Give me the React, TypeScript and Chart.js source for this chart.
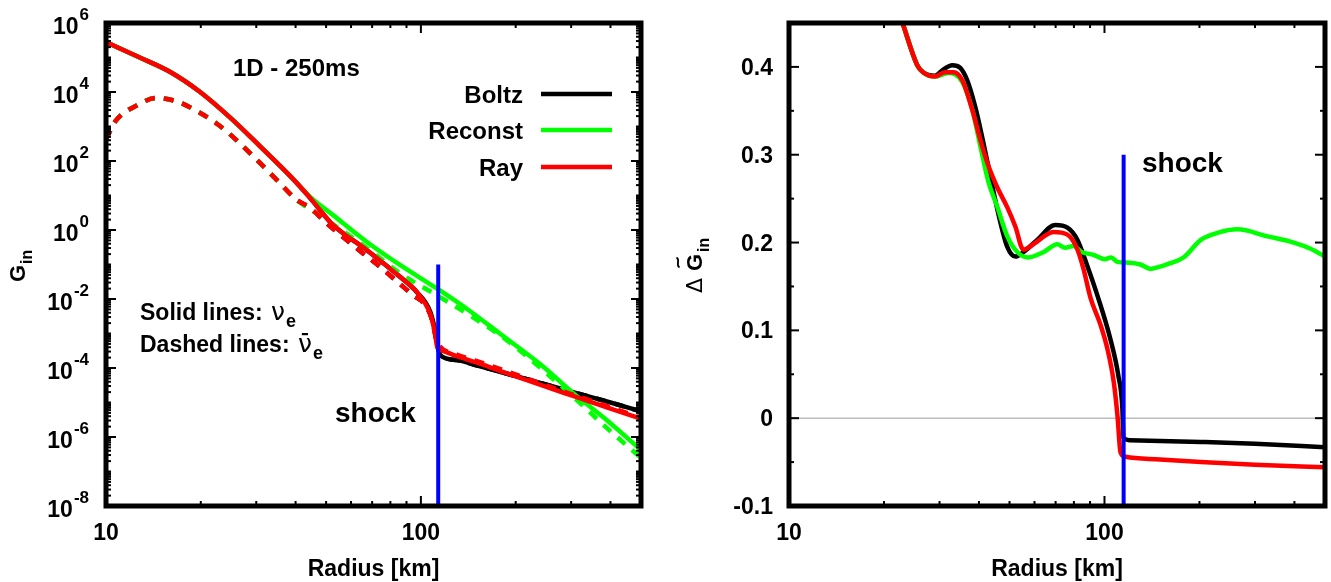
import React, { useEffect, useRef } from 'react';
import { Chart, registerables } from 'chart.js';

Chart.register(...registerables);

const FONT = '"Liberation Sans", Arial, Helvetica, sans-serif';
const SYM = '"DejaVu Sans", sans-serif';
const H = 582;
const LEFT_W = 665;
const RIGHT_W = 666;

const BLACK = '#000000';
const GREEN = '#00ff00';
const RED = '#ff0000';
const BLUE = '#0000ff';

// ===== Left panel: G_in vs radius (solid = nu_e, dashed = anti-nu_e) =====
const boltzNueR = [10, 12.8, 16.0, 19.9, 24.8, 30.8, 38.4, 44.5, 52.6, 67.4, 85.8, 97.0, 107, 111, 113.5, 115.5, 130, 150, 178, 230, 304, 400, 500];
const boltzNueG = [2.8e5, 1.0e5, 3.8e4, 1.0e4, 1.8e3, 270, 37, 8.5, 1.4, 0.26, 0.044, 0.016, 4.3e-3, 1.2e-3, 3.8e-4, 2.3e-4, 1.7e-4, 1.2e-4, 7.8e-5, 4.1e-5, 2.0e-5, 1.0e-5, 5.5e-6];

const rayNueR = [10, 12.8, 16.0, 19.9, 24.8, 30.8, 38.4, 44.5, 52.6, 67.4, 85.8, 97.0, 107, 110.7, 112.9, 115.5, 130, 150, 178, 230, 304, 400, 500];
const rayNueG = [2.8e5, 1.0e5, 3.8e4, 1.0e4, 1.8e3, 270, 37, 8.5, 1.4, 0.26, 0.044, 0.016, 3.7e-3, 1.1e-3, 3.8e-4, 3.3e-4, 2.2e-4, 1.45e-4, 8.3e-5, 3.7e-5, 1.55e-5, 6.6e-6, 3.4e-6];

const reconstNueR = [10, 12.8, 16.0, 19.9, 24.8, 30.8, 38.4, 44.5, 52.6, 67.4, 85.8, 113, 143, 178, 239, 304, 398, 500];
const reconstNueG = [2.8e5, 1.0e5, 3.8e4, 1.0e4, 1.8e3, 270, 37, 9.1, 2.7, 0.45, 0.097, 0.0195, 4.5e-3, 1.0e-3, 1.3e-4, 1.9e-5, 2.6e-6, 4.2e-7];

const rayAnueR = [10, 10.7, 12.6, 14.5, 16.9, 19.7, 22.5, 25.3, 29.7, 34.9, 40.4, 44.4, 51.4, 58.1, 65.5, 74.2, 83.7, 94.3, 103, 108.5, 112, 114.5, 130, 150, 178, 230, 304, 400, 500];
const rayAnueG = [420, 1.4e3, 4.2e3, 6.7e3, 5.2e3, 2.6e3, 1.2e3, 500, 123, 28, 7.4, 4.4, 1.3, 0.51, 0.21, 0.085, 0.033, 0.013, 6.8e-3, 2.5e-3, 6.5e-4, 4.4e-4, 2.45e-4, 1.6e-4, 9.5e-5, 4.1e-5, 1.7e-5, 7.3e-6, 3.6e-6];

const boltzAnueR = [10, 10.7, 12.6, 14.5, 16.9, 19.7, 22.5, 25.3, 29.7, 34.9, 40.4, 44.4, 51.4, 58.1, 65.5, 74.2, 83.7, 94.3, 103, 108.5, 112, 115.5, 130, 150, 178, 230, 304, 400, 500];
const boltzAnueG = [420, 1.4e3, 4.2e3, 6.7e3, 5.2e3, 2.6e3, 1.2e3, 500, 123, 28, 7.4, 4.4, 1.3, 0.51, 0.21, 0.085, 0.033, 0.013, 6.8e-3, 2.5e-3, 6.5e-4, 2.3e-4, 1.7e-4, 1.2e-4, 7.8e-5, 4.1e-5, 2.0e-5, 1.0e-5, 5.5e-6];

const reconstAnueR = [10, 10.7, 12.6, 14.5, 16.9, 19.7, 22.5, 25.3, 29.7, 34.9, 40.4, 51.4, 67.4, 85.8, 112, 146, 191, 244, 312, 390, 500];
const reconstAnueG = [420, 1.4e3, 4.2e3, 6.7e3, 5.2e3, 2.6e3, 1.2e3, 500, 123, 28, 7.4, 1.7, 0.30, 0.056, 0.013, 3.0e-3, 5.6e-4, 8.7e-5, 1.2e-5, 1.8e-6, 2.5e-7];

const shockLeftR = [113.5, 113.5];
const shockLeftG = [1e-8, 0.1];

// ===== Right panel: Delta G~_in vs radius =====
const boltzDeltaR = [21, 23.0, 25.5, 26.6, 29.0, 30.8, 32.9, 34.9, 36.7, 38.9, 41.3, 43.5, 46.0, 49.2, 52.2, 55.3, 61.2, 69.8, 76.3, 82.1, 88.3, 95.1, 104.4, 110.7, 114.0, 114.8, 120, 202, 300, 500];
const boltzDeltaV = [0.49, 0.448, 0.402, 0.394, 0.390, 0.397, 0.402, 0.399, 0.385, 0.355, 0.314, 0.275, 0.234, 0.195, 0.184, 0.189, 0.203, 0.220, 0.217, 0.203, 0.173, 0.139, 0.090, 0.048, 0.010, -0.022, -0.025, -0.027, -0.029, -0.033];

const reconstDeltaR = [21, 23.0, 25.5, 26.6, 29.0, 32.0, 35.4, 38.1, 40.4, 42.8, 45.7, 49.2, 53.0, 57.4, 64.0, 70.9, 75, 79.7, 85, 92.3, 100, 105, 109.9, 120, 130, 140, 148, 160, 178, 202, 228, 264, 329, 398, 450, 500];
const reconstDeltaV = [0.49, 0.448, 0.402, 0.394, 0.389, 0.393, 0.383, 0.351, 0.310, 0.270, 0.241, 0.207, 0.189, 0.183, 0.189, 0.198, 0.194, 0.196, 0.189, 0.186, 0.181, 0.183, 0.178, 0.177, 0.175, 0.170, 0.172, 0.176, 0.183, 0.203, 0.211, 0.215, 0.207, 0.200, 0.193, 0.184];

const rayDeltaR = [21, 23.0, 25.5, 26.6, 29.0, 31.2, 33.2, 35.4, 38.1, 40.4, 42.8, 45.7, 49.2, 52.2, 55.3, 59.5, 68.9, 76.3, 82.1, 85.8, 90.3, 97.0, 102.3, 107, 110, 112.4, 116.6, 150, 202, 300, 500];
const rayDeltaV = [0.49, 0.448, 0.402, 0.394, 0.389, 0.394, 0.394, 0.385, 0.351, 0.317, 0.288, 0.263, 0.240, 0.218, 0.192, 0.198, 0.212, 0.209, 0.192, 0.170, 0.137, 0.107, 0.078, 0.041, 0.002, -0.039, -0.044, -0.047, -0.050, -0.053, -0.056];

const shockRightR = [115, 115];
const shockRightV = [-0.1, 0.3];
const zeroLineR = [10, 500];
const zeroLineV = [0, 0];

// ===== Axis ticks / labels =====
const xMajorTicks = [10, 100];
const xMinorTicks = [20, 30, 40, 50, 60, 70, 80, 90, 200, 300, 400];
const leftYLabelExponents = [6, 4, 2, 0, -2, -4, -6, -8];
const rightYLabelTicks = [-0.1, 0, 0.1, 0.2, 0.3, 0.4];
const rightYMinorTicks = [-0.05, 0.05, 0.15, 0.25, 0.35];
const legendNames = ['Boltz', 'Reconst', 'Ray'];
const legendColors = [BLACK, GREEN, RED];

const leftYMajor = leftYLabelExponents.map((e) => Math.pow(10, e));
const leftYMinor: number[] = [];
for (let e = -8; e <= 5; e++) {
  for (let m = 1; m <= 9; m++) {
    if (m === 1 && e % 2 === 0) continue;
    leftYMinor.push(m * Math.pow(10, e));
  }
}

const toPts = (r: number[], v: number[]) => r.map((x, i) => ({ x, y: v[i] }));

function curve(label: string, r: number[], v: number[], color: string, dashed = false) {
  return {
    label,
    data: toPts(r, v),
    borderColor: color,
    backgroundColor: color,
    borderWidth: 4.5,
    borderDash: dashed ? [10, 9] : [],
    pointRadius: 0,
    fill: false,
    cubicInterpolationMode: 'monotone' as const,
    borderCapStyle: 'butt' as const,
  };
}

function straight(label: string, r: number[], v: number[], color: string, width: number) {
  return {
    label,
    data: toPts(r, v),
    borderColor: color,
    backgroundColor: color,
    borderWidth: width,
    pointRadius: 0,
    fill: false,
    tension: 0,
    borderCapStyle: 'butt' as const,
  };
}

function font(size: number, bold = true, fam = FONT) {
  return `${bold ? 'bold ' : ''}${size}px ${fam}`;
}

type FrameSpec = {
  xMajor: number[];
  xMinor: number[];
  yMajor: number[];
  yMinor: number[];
  yLabel: (ctx: CanvasRenderingContext2D, v: number, p: number, a: any) => void;
  extra: (ctx: CanvasRenderingContext2D, a: any) => void;
};

function framePlugin(spec: FrameSpec) {
  return {
    id: 'frame',
    afterDraw(chart: any) {
      const { ctx, chartArea: a, scales } = chart;
      const sx = scales.x;
      const sy = scales.y;
      ctx.save();
      ctx.setLineDash([]);
      ctx.strokeStyle = '#000';
      ctx.lineWidth = 2;
      const seg = (x1: number, y1: number, x2: number, y2: number) => {
        ctx.beginPath();
        ctx.moveTo(x1, y1);
        ctx.lineTo(x2, y2);
        ctx.stroke();
      };
      const xt = (v: number, len: number) => {
        const p = sx.getPixelForValue(v);
        seg(p, a.bottom, p, a.bottom - len);
        seg(p, a.top, p, a.top + len);
      };
      const yt = (v: number, len: number) => {
        const p = sy.getPixelForValue(v);
        seg(a.left, p, a.left + len, p);
        seg(a.right, p, a.right - len, p);
      };
      spec.xMajor.forEach((v) => xt(v, 10));
      spec.xMinor.forEach((v) => xt(v, 5));
      spec.yMajor.forEach((v) => yt(v, 10));
      spec.yMinor.forEach((v) => yt(v, 5));
      ctx.lineWidth = 5;
      ctx.lineJoin = 'miter';
      ctx.strokeRect(a.left, a.top, a.right - a.left, a.bottom - a.top);

      ctx.fillStyle = '#000';
      ctx.textBaseline = 'alphabetic';
      ctx.textAlign = 'center';
      ctx.font = font(23);
      spec.xMajor.forEach((v) => ctx.fillText(String(v), sx.getPixelForValue(v), a.bottom + 34));
      ctx.fillText('Radius [km]', (a.left + a.right) / 2, a.bottom + 70);
      spec.yMajor.forEach((v) => spec.yLabel(ctx, v, sy.getPixelForValue(v), a));
      spec.extra(ctx, a);
      ctx.restore();
    },
  };
}

function drawTilde(ctx: CanvasRenderingContext2D, cx: number, cy: number) {
  ctx.beginPath();
  ctx.moveTo(cx - 5, cy + 1.5);
  ctx.bezierCurveTo(cx - 2.5, cy - 3, cx + 2.5, cy + 3, cx + 5, cy - 1.5);
  ctx.lineWidth = 1.8;
  ctx.strokeStyle = '#000';
  ctx.stroke();
}

function drawNuLine(ctx: CanvasRenderingContext2D, x: number, y: number, label: string, bar: boolean) {
  ctx.textAlign = 'left';
  ctx.font = font(23);
  ctx.fillText(label, x, y);
  const cx = x + ctx.measureText(label).width + 2;
  ctx.font = font(25, false, SYM);
  ctx.fillText('\u03BD', cx, y);
  const nw = ctx.measureText('\u03BD').width;
  if (bar) ctx.fillRect(cx + nw * 0.28, y - 19, nw * 0.44, 2.2);
  ctx.font = font(18);
  ctx.fillText('e', cx + nw + 1, y + 7);
}

function leftConfig(): any {
  const extra = (ctx: CanvasRenderingContext2D, a: any) => {
    ctx.fillStyle = '#000';
    ctx.textAlign = 'left';
    ctx.font = font(24);
    ctx.fillText('1D - 250ms', 233, 76);
    const ys = [94, 130, 167];
    legendNames.forEach((n, i) => {
      ctx.textAlign = 'right';
      ctx.font = font(24);
      ctx.fillStyle = '#000';
      ctx.fillText(n, 523, ys[i] + 8.5);
      ctx.strokeStyle = legendColors[i];
      ctx.lineWidth = 4.5;
      ctx.beginPath();
      ctx.moveTo(541, ys[i]);
      ctx.lineTo(612, ys[i]);
      ctx.stroke();
    });
    ctx.fillStyle = '#000';
    ctx.textAlign = 'left';
    ctx.font = font(28);
    ctx.fillText('shock', 335, 422);
    drawNuLine(ctx, 140, 320, 'Solid lines: ', false);
    drawNuLine(ctx, 140, 352, 'Dashed lines: ', true);
    // y title
    ctx.save();
    ctx.translate(25, 282);
    ctx.rotate(-Math.PI / 2);
    ctx.textAlign = 'left';
    ctx.font = font(22);
    ctx.fillText('G', 0, 0);
    const gw = ctx.measureText('G').width;
    ctx.font = font(16);
    ctx.fillText('in', gw + 1, 7);
    ctx.restore();
  };
  const yLabel = (ctx: CanvasRenderingContext2D, v: number, p: number, a: any) => {
    const exp = String(Math.round(Math.log10(v)));
    ctx.textAlign = 'left';
    ctx.font = font(23);
    const wb = ctx.measureText('10').width;
    ctx.font = font(17);
    const we = ctx.measureText(exp).width;
    const x0 = a.left - 17 - wb - we - 1;
    ctx.font = font(23);
    ctx.fillText('10', x0, p + 11);
    ctx.font = font(17);
    ctx.fillText(exp, x0 + wb + 1, p - 3);
  };
  return {
    type: 'line',
    data: {
      datasets: [
        straight('shock', shockLeftR, shockLeftG, BLUE, 4),
        curve('Ray nue', rayNueR, rayNueG, RED),
        curve('Ray anue', rayAnueR, rayAnueG, RED, true),
        curve('Reconst nue', reconstNueR, reconstNueG, GREEN),
        curve('Reconst anue', reconstAnueR, reconstAnueG, GREEN, true),
        curve('Boltz nue', boltzNueR, boltzNueG, BLACK),
        curve('Boltz anue', boltzAnueR, boltzAnueG, BLACK, true),
      ],
    },
    options: {
      responsive: false,
      animation: false,
      devicePixelRatio: 1,
      events: [],
      layout: { padding: { left: 106, top: 23, right: LEFT_W - 641, bottom: H - 506 } },
      plugins: { legend: { display: false }, tooltip: { enabled: false } },
      scales: {
        x: { type: 'logarithmic', min: 10, max: 500, display: false },
        y: { type: 'logarithmic', min: 1e-8, max: 1e6, display: false },
      },
    },
    plugins: [
      framePlugin({ xMajor: xMajorTicks, xMinor: xMinorTicks, yMajor: leftYMajor, yMinor: leftYMinor, yLabel, extra }),
    ],
  };
}

function rightConfig(): any {
  const extra = (ctx: CanvasRenderingContext2D, a: any) => {
    ctx.fillStyle = '#000';
    ctx.textAlign = 'left';
    ctx.font = font(28);
    ctx.fillText('shock', 477, 172);
    ctx.save();
    ctx.translate(37, 293);
    ctx.rotate(-Math.PI / 2);
    ctx.textAlign = 'left';
    ctx.font = font(22, false, SYM);
    ctx.fillText('\u0394', 0, 0);
    ctx.font = font(22);
    const gx = 22;
    ctx.fillText('G', gx, 0);
    const gw = ctx.measureText('G').width;
    drawTilde(ctx, gx + gw / 2, -24);
    ctx.font = font(16);
    ctx.fillText('in', gx + gw + 2, 7);
    ctx.restore();
  };
  const yLabel = (ctx: CanvasRenderingContext2D, v: number, p: number, a: any) => {
    ctx.textAlign = 'right';
    ctx.font = font(23);
    ctx.fillText(v === 0 ? '0' : v.toFixed(1), a.left - 16, p + 8);
  };
  return {
    type: 'line',
    data: {
      datasets: [
        straight('shock', shockRightR, shockRightV, BLUE, 4),
        curve('Ray', rayDeltaR, rayDeltaV, RED),
        curve('Reconst', reconstDeltaR, reconstDeltaV, GREEN),
        curve('Boltz', boltzDeltaR, boltzDeltaV, BLACK),
        straight('zero', zeroLineR, zeroLineV, '#bdbdbd', 1.6),
      ],
    },
    options: {
      responsive: false,
      animation: false,
      devicePixelRatio: 1,
      events: [],
      layout: { padding: { left: 789 - LEFT_W, top: 23, right: RIGHT_W - (1325 - LEFT_W), bottom: H - 506 } },
      plugins: { legend: { display: false }, tooltip: { enabled: false } },
      scales: {
        x: { type: 'logarithmic', min: 10, max: 500, display: false },
        y: { type: 'linear', min: -0.1, max: 0.45, display: false },
      },
    },
    plugins: [
      framePlugin({ xMajor: xMajorTicks, xMinor: xMinorTicks, yMajor: rightYLabelTicks, yMinor: rightYMinorTicks, yLabel, extra }),
    ],
  };
}

function Panel({ makeConfig, left, width }: { makeConfig: () => any; left: number; width: number }) {
  const ref = useRef<HTMLCanvasElement>(null);
  useEffect(() => {
    const chart = new Chart(ref.current as HTMLCanvasElement, makeConfig());
    return () => chart.destroy();
  }, []);
  return (
    <canvas
      ref={ref}
      width={width}
      height={H}
      style={{ position: 'absolute', left, top: 0, width, height: H, display: 'block' }}
    />
  );
}

export default function App() {
  return (
    <div style={{ position: 'absolute', left: 0, top: 0, width: 1331, height: H, background: '#fff', overflow: 'hidden' }}>
      <Panel makeConfig={leftConfig} left={0} width={LEFT_W} />
      <Panel makeConfig={rightConfig} left={LEFT_W} width={RIGHT_W} />
    </div>
  );
}
